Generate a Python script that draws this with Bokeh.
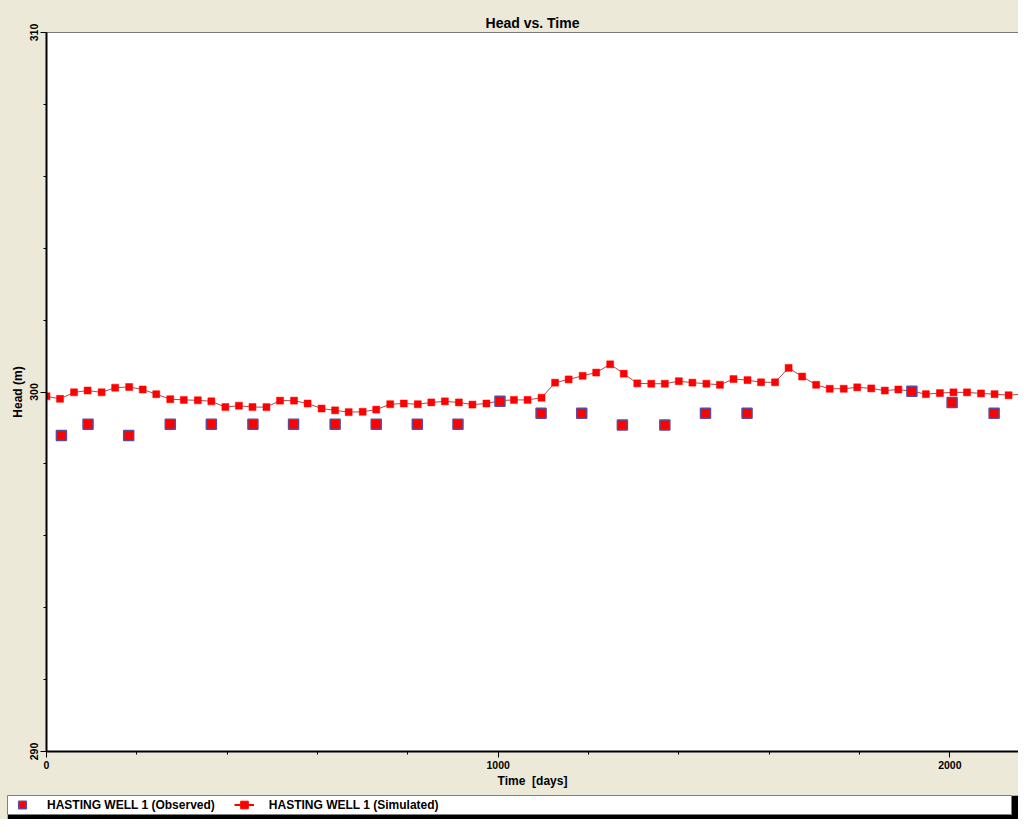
from bokeh.plotting import figure
from bokeh.models import ColumnDataSource, FixedTicker, Range1d, Legend, LegendItem, Span
from bokeh.layouts import column
from bokeh.embed import file_html
from bokeh.resources import INLINE

# ---- data ----
sim_days = [0, 30, 61, 91, 122, 152, 183, 213, 243, 274, 304, 335, 365, 396, 426, 456,
            487, 517, 548, 578, 609, 639, 669, 700, 730, 761, 791, 822, 852, 882, 913, 943,
            974, 1004, 1035, 1065, 1096, 1126, 1156, 1187, 1217, 1248, 1278, 1308, 1339,
            1369, 1400, 1430, 1461, 1491, 1521, 1552, 1582, 1613, 1643, 1673, 1704, 1734,
            1765, 1795, 1826, 1856, 1886, 1917, 1947, 1978, 2008, 2038, 2069, 2099, 2130, 2160]
sim_head = [299.88, 299.81, 299.99, 300.04, 299.99, 300.12, 300.14, 300.07, 299.94, 299.80,
            299.78, 299.77, 299.74, 299.58, 299.62, 299.58, 299.58, 299.76, 299.76, 299.68,
            299.54, 299.49, 299.44, 299.45, 299.51, 299.66, 299.68, 299.66, 299.71, 299.74,
            299.71, 299.65, 299.68, 299.76, 299.78, 299.78, 299.84, 300.26, 300.35, 300.45,
            300.54, 300.77, 300.51, 300.24, 300.23, 300.23, 300.30, 300.26, 300.23, 300.20,
            300.36, 300.33, 300.27, 300.27, 300.67, 300.43, 300.20, 300.09, 300.09, 300.13,
            300.10, 300.04, 300.07, 300.02, 299.94, 299.97, 299.99, 299.99, 299.96, 299.94,
            299.91, 299.94]
obs_days = [33, 92, 182, 274, 365, 457, 547, 639, 730, 821, 911, 1004, 1095, 1185, 1275,
            1369, 1459, 1551, 1916, 2005, 2098]
obs_head = [298.79, 299.10, 298.79, 299.10, 299.10, 299.10, 299.10, 299.10, 299.10, 299.10,
            299.10, 299.74, 299.41, 299.41, 299.08, 299.08, 299.41, 299.41, 300.02, 299.71,
            299.41]
x_major = [0, 1000, 2000]
y_major = [290, 300, 310]
obs_label = "HASTING WELL 1 (Observed)"
sim_label = "HASTING WELL 1 (Simulated)"

FONT = "Liberation Sans"
BG = "#ECE9D8"
RED = "#FF0000"
OBS_EDGE = "#5B4C9E"
LINE = "#B04848"

sim_src = ColumnDataSource(data=dict(day=sim_days, head=sim_head))
obs_src = ColumnDataSource(data=dict(day=obs_days, head=obs_head))

p = figure(width=1018, height=795, x_range=Range1d(0, 2152), y_range=Range1d(290, 310),
           output_backend="svg", toolbar_location=None, title="Head vs. Time",
           min_border_left=46, min_border_right=0, min_border_top=32, min_border_bottom=44,
           border_fill_color=BG, background_fill_color="white", outline_line_color=None)
p.grid.visible = False
p.title.align = "center"
p.title.text_font = FONT
p.title.text_font_size = "14px"
p.title.text_font_style = "bold"
p.title.text_color = "black"
p.title.standoff = 3

p.xaxis.ticker = FixedTicker(ticks=x_major, minor_ticks=list(range(0, 2201, 200)))
p.yaxis.ticker = FixedTicker(ticks=y_major, minor_ticks=list(range(290, 311, 2)))
p.xaxis.axis_label = "Time \u00a0[days]"
p.yaxis.axis_label = "Head (m)"
p.yaxis.major_label_orientation = "vertical"
for ax in (p.xaxis, p.yaxis):
    ax.axis_line_width = 2
    ax.axis_line_color = "black"
    ax.major_tick_out = 6
    ax.major_tick_in = 0
    ax.minor_tick_out = 3
    ax.minor_tick_in = 0
    ax.major_tick_line_color = "black"
    ax.minor_tick_line_color = "black"
    ax.major_label_text_font = FONT
    ax.major_label_text_font_size = "10.5px"
    ax.major_label_text_font_style = "bold"
    ax.major_label_text_color = "black"
    ax.axis_label_text_font = FONT
    ax.axis_label_text_font_size = "12px"
    ax.axis_label_text_font_style = "bold"
    ax.axis_label_text_color = "black"
    ax.major_label_standoff = 3
    ax.axis_label_standoff = 2

p.add_layout(Span(location=310, dimension="width", line_color="black", line_width=1))

p.line("day", "head", source=sim_src, line_color=LINE, line_width=1)
p.scatter("day", "head", source=sim_src, marker="square", size=7,
          fill_color=RED, line_color=RED, line_width=0.5)
p.scatter("day", "head", source=obs_src, marker="square", size=10,
          fill_color=RED, line_color=OBS_EDGE, line_width=1.5)

# ---- legend strip ----
leg = figure(width=1011, height=24, x_range=Range1d(0, 1), y_range=Range1d(0, 1),
             output_backend="svg", toolbar_location=None,
             x_axis_location=None, y_axis_location=None,
             min_border_left=0, min_border_top=0, min_border_right=7, min_border_bottom=5,
             border_fill_color="black", background_fill_color="white",
             outline_line_color="#808080", margin=(0, 0, 0, 7))
leg.grid.visible = False
lo = leg.scatter("day", "head", source=obs_src, marker="square", size=10,
                 fill_color=RED, line_color=OBS_EDGE, line_width=1.5)
ll = leg.line("day", "head", source=sim_src, line_color=RED, line_width=2)
ls = leg.scatter("day", "head", source=sim_src, marker="square", size=7,
                 fill_color=RED, line_color=RED)
legend = Legend(items=[LegendItem(label=obs_label, renderers=[lo]),
                       LegendItem(label=sim_label, renderers=[ll, ls])],
                orientation="horizontal", location=(5, 0), margin=0, padding=0,
                spacing=19, label_standoff=15, glyph_width=20, glyph_height=19,
                label_height=19, label_text_font=FONT, label_text_font_style="bold",
                label_text_font_size="12px", label_text_color="black",
                background_fill_alpha=0, border_line_color=None)
leg.add_layout(legend)

layout = column(column(p), column(leg), spacing=0, styles={"background-color": BG})
open("out.html", "w").write(file_html(layout, INLINE, title="Head vs. Time"))
